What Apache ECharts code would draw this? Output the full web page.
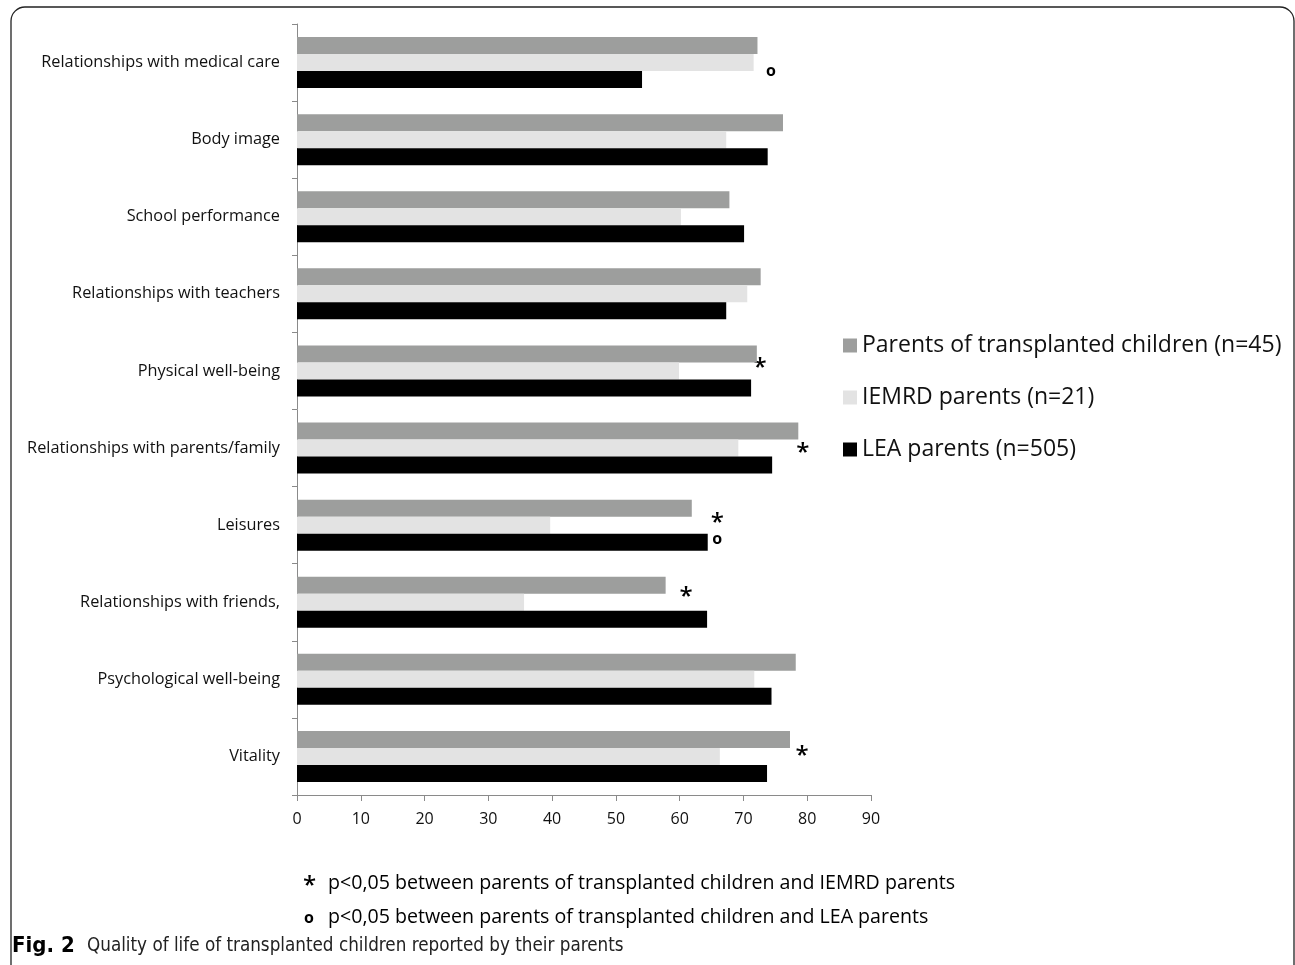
<!DOCTYPE html>
<html><head><meta charset="utf-8">
<script src="https://cdn.jsdelivr.net/npm/echarts@6/dist/echarts.min.js"></script>
<style>html,body{margin:0;padding:0;background:#fff;}#c{width:1295px;height:965px;}</style>
</head><body><div id="c"></div>
<script>
const categories = ["Relationships with medical care","Body image","School performance","Relationships with teachers","Physical well-being","Relationships with parents/family","Leisures","Relationships with friends,","Psychological well-being","Vitality"];
const transplanted = [72.2,76.2,67.8,72.7,72.1,78.6,61.9,57.8,78.2,77.3];
const iemrd = [71.6,67.3,60.2,70.6,59.9,69.2,39.7,35.6,71.7,66.3];
const lea = [54.1,73.8,70.1,67.3,71.2,74.5,64.4,64.3,74.4,73.7];
const seriesNames = ["Parents of transplanted children (n=45)","IEMRD parents (n=21)","LEA parents (n=505)"];
const xTicks = {min:0,max:90,interval:10};
// significance markers: [x value, category index, offset within band (-0.5 top .. 0.5 bottom), symbol]
const markers = [[74.3,0,0.11,"o"],[72.6,4,-0.12,"*"],[79.3,5,-0.01,"*"],[65.9,6,-0.11,"*"],[65.9,6,0.18,"o"],[61.0,7,-0.15,"*"],[79.2,9,-0.08,"*"]];
const notes = ["p<0,05 between parents of transplanted children and IEMRD parents","p<0,05 between parents of transplanted children and LEA parents"];
const caption = ["Fig. 2","Quality of life of transplanted children reported by their parents"];

const font = "'Open Sans', 'Noto Sans', sans-serif";
const narrow = "'Liberation Sans Narrow', 'DejaVu Sans Condensed', sans-serif";
const chart = echarts.init(document.getElementById('c'));
const colors = ['#9d9e9d','#e3e3e3','#000000'];
const barCfg = (name, data, color) => ({
  name, type:'bar', data, barWidth:17, barGap:'0%', itemStyle:{color}
});
chart.setOption({
  animation:false,
  color: colors,
  grid:{left:297,right:424,top:24,bottom:170,containLabel:false},
  legend:{orient:'vertical',left:838,top:329,itemWidth:14,itemHeight:14,itemGap:29,
    icon:'rect',textStyle:{fontFamily:font,fontSize:23,color:'#111'},
    data:seriesNames},
  xAxis:{type:'value',min:xTicks.min,max:xTicks.max,interval:xTicks.interval,
    axisLine:{show:true,lineStyle:{color:'#8a8a8a',width:1}},
    axisTick:{show:true,length:6,lineStyle:{color:'#8a8a8a'}},
    splitLine:{show:false},
    axisLabel:{fontFamily:font,fontSize:16,color:'#111',margin:16}},
  yAxis:{type:'category',data:categories,inverse:true,
    axisLine:{show:true,lineStyle:{color:'#8a8a8a',width:1}},
    axisTick:{show:true,length:5,lineStyle:{color:'#8a8a8a'}},
    splitLine:{show:false},
    axisLabel:{fontFamily:font,fontSize:16.3,color:'#111',margin:17}},
  series:[
    barCfg(seriesNames[0],transplanted,colors[0]),
    barCfg(seriesNames[1],iemrd,colors[1]),
    barCfg(seriesNames[2],lea,colors[2]),
    {type:'custom',silent:true,data:markers,
     encode:{x:0,y:1},
     renderItem:function(params, api){
       const p = api.coord([api.value(0), api.value(1)]);
       const band = api.size([0,1])[1];
       const sym = markers[params.dataIndex][3];
       const y = p[1] + api.value(2)*band;
       return {type:'text',style:{text:sym,x:p[0],y:y+(sym==='*'?6:0),align:'center',verticalAlign:'middle',
         font:(sym==='*'?"600 24px ":"bold 16px ")+"'Open Sans'",fill:'#000'}};
     }}
  ],
  graphic:[
    {type:'rect',shape:{x:11,y:7,width:1283,height:1100,r:14},style:{fill:'none',stroke:'#222',lineWidth:1.3},silent:true},
    {type:'text',left:303,top:874,style:{text:'*',font:"600 24px 'Open Sans'",fill:'#000'}},
    {type:'text',left:328,top:873,style:{text:notes[0],font:"19.6px 'Open Sans'",fill:'#000'}},
    {type:'text',left:304,top:910,style:{text:'o',font:"bold 16px 'Open Sans'",fill:'#000'}},
    {type:'text',left:328,top:907,style:{text:notes[1],font:"19.6px 'Open Sans'",fill:'#000'}},
    {type:'text',left:12,top:935,style:{text:caption[0],font:"bold 22px "+narrow,fill:'#000'}},
    {type:'text',left:87,top:937,style:{text:caption[1],font:"18.7px "+narrow,fill:'#222'}}
  ]
});
</script></body></html>
